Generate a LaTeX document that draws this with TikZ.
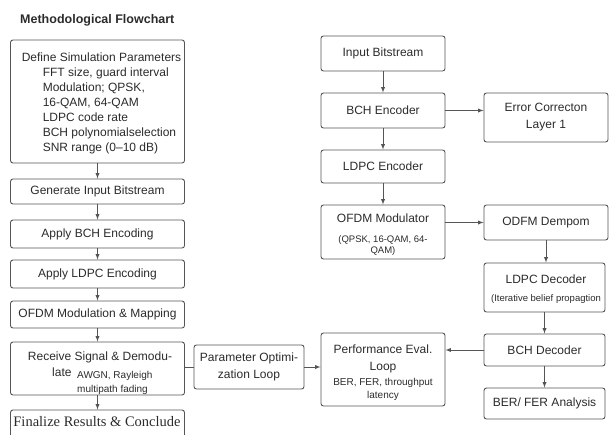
\documentclass[tikz,border=0pt]{standalone}
\usepackage{fontspec}
\setmainfont{Liberation Sans}
\newfontfamily\timesfnt{Liberation Serif}
\usetikzlibrary{positioning}
\definecolor{linegray}{HTML}{555555}
\definecolor{textgray}{HTML}{2B2B2B}
\newcommand\smallfnt{\fontsize{9.5}{13}\selectfont}

\begin{document}
\begin{tikzpicture}[x=1pt,y=-1pt,
	box/.style={draw=linegray,line width=0.9pt,rounded corners=2.5pt,inner sep=0pt,align=center,text=textgray,font=\fontsize{12}{15}\selectfont},
	txt/.style={inner sep=0pt,text=textgray,font=\fontsize{12}{15}\selectfont},
	conn/.style={draw=linegray,line width=0.9pt},
	arr/.style={conn,-latex}]
	\useasboundingbox (0,0) rectangle (609,434);
	\node[txt,anchor=west,font=\bfseries\fontsize{12.5}{15}\selectfont] (title) at (20,20) {Methodological Flowchart};
	% left column
	\node[box,minimum width=174pt,minimum height=123pt] (define) at (97.5,101.5) {};
	\node[txt,align=left] (definetext) at (101.5,103) {Define Simulation Parameters\\
		\hspace*{21pt}FFT size, guard interval\\
		\hspace*{21pt}Modulation; QPSK,\\
		\hspace*{21pt}16-QAM, 64-QAM\\
		\hspace*{21pt}LDPC code rate\\
		\hspace*{21pt}BCH polynomialselection\\
		\hspace*{21pt}SNR range (0--10 dB)};
	\node[box,minimum width=174pt,minimum height=25pt] (generate) at (97.5,191.5) {Generate Input Bitstream};
	\node[box,minimum width=174pt,minimum height=28pt] (applybch) at (97.5,234) {Apply BCH Encoding};
	\node[box,minimum width=174pt,minimum height=28pt] (applyldpc) at (97.5,274) {Apply LDPC Encoding};
	\node[box,minimum width=174pt,minimum height=27pt] (ofdmmap) at (97.5,314.5) {OFDM Modulation \& Mapping};
	\node[box,minimum width=174pt,minimum height=53pt] (receive) at (97.5,368.5) {};
	\node[txt] (receivetext) at (100,357) {Receive Signal \& Demodu-};
	\node[txt,anchor=west] (late) at (52,372) {late};
	\node[txt,anchor=west,align=left,font=\fontsize{10}{14}\selectfont] (channel) at (77,383) {AWGN, Rayleigh\\multipath fading};
	\node[box,minimum width=174pt,minimum height=30pt] (finalize) at (97.5,425) {};
	\node[txt,font=\timesfnt\fontsize{14.5}{17}\selectfont] (finaltext) at (97,422) {Finalize Results \& Conclude};
	% loop boxes
	\node[box,minimum width=110pt,minimum height=44pt,font=\fontsize{12}{17}\selectfont] (param) at (249,367) {Parameter Optimi-\\zation Loop};
	\node[box,minimum width=124pt,minimum height=73pt] (perf) at (383,369.5) {};
	\node[txt,align=center,font=\fontsize{12}{13}\selectfont] (perftext) at (383,373) {Performance Eval.\\[4pt]Loop\\[2pt]{\fontsize{10}{13}\selectfont BER, FER, throughput}\\{\fontsize{10}{13}\selectfont latency}};
	% right column
	\node[box,minimum width=124pt,minimum height=35pt] (input) at (383,53.5) {Input Bitstream};
	\node[box,minimum width=124pt,minimum height=35pt] (bchenc) at (383,110.5) {BCH Encoder};
	\node[box,minimum width=124pt,minimum height=49pt,font=\fontsize{12}{17}\selectfont] (errcorr) at (546,117.5) {Error Correcton\\Layer 1};
	\node[box,minimum width=124pt,minimum height=33pt] (ldpcenc) at (383,166.5) {LDPC Encoder};
	\node[box,minimum width=124pt,minimum height=54pt] (ofdmmod) at (383,232) {};
	\node[txt,align=center,font=\fontsize{12}{11}\selectfont] (ofdmmodtext) at (383,235) {OFDM Modulator\\[9pt]{\smallfnt(QPSK, 16-QAM, 64-}\\{\smallfnt QAM)}};
	\node[box,minimum width=124pt,minimum height=35pt] (odfm) at (546,222.5) {ODFM Dempom};
	\node[box,minimum width=121pt,minimum height=49pt] (ldpcdec) at (544.5,287.5) {};
	\node[txt,align=center,font=\fontsize{12}{18}\selectfont] (ldpcdectext) at (546,289) {LDPC Decoder\\{\smallfnt(Iterative belief propagtion}};
	\node[box,minimum width=121pt,minimum height=32pt] (bchdec) at (544.5,350) {BCH Decoder};
	\node[box,minimum width=121pt,minimum height=31pt] (berfer) at (544.5,403.5) {BER/ FER Analysis};
	% connectors
	\draw[arr] (define) -- (generate);
	\draw[arr] (generate) -- (applybch);
	\draw[arr] (applybch) -- (applyldpc);
	\draw[arr] (applyldpc) -- (ofdmmap);
	\draw[arr] (ofdmmap) -- (receive);
	\draw[arr] (receive) -- (finalize);
	\draw[conn] (receive.east |- param) -- (param.west);
	\draw[arr] (param) -- (param -| perf.west);
	\draw[arr] (input) -- (bchenc);
	\draw[arr] (bchenc) -- (ldpcenc);
	\draw[arr] (ldpcenc) -- (ofdmmod);
	\draw[arr] (bchenc) -- (bchenc -| errcorr.west);
	\draw[arr] (ofdmmod.east |- odfm) -- (odfm);
	\draw[arr] (odfm) -- (odfm |- ldpcdec.north);
	\draw[arr] (ldpcdec) -- (bchdec);
	\draw[arr] (bchdec) -- (berfer);
	\draw[arr] (bchdec) -- (bchdec -| perf.east);
\end{tikzpicture}
\end{document}
